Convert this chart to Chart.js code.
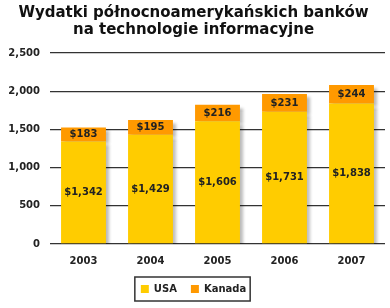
<!DOCTYPE html>
<html>
<head>
<meta charset="utf-8">
<script src="https://cdn.jsdelivr.net/npm/chart.js@4/dist/chart.umd.min.js"></script>
<style>
  html, body { margin: 0; padding: 0; background: #fff; }
  #wrap { width: 390px; height: 308px; }
</style>
</head>
<body>
<div id="wrap"><canvas id="chart"></canvas></div>
<script>
const years = ["2003", "2004", "2005", "2006", "2007"];
const usa = [1342, 1429, 1606, 1731, 1838];
const kanada = [183, 195, 216, 231, 244];
const seriesNames = ["USA", "Kanada"];
const titleLines = ["Wydatki północnoamerykańskich banków", "na technologie informacyjne"];

const FONT = "'DejaVu Sans', Verdana, sans-serif";
const fmt = v => v.toLocaleString("en-US");

// Shadow under bars
const shadowPlugin = {
  id: "shadow",
  beforeDatasetsDraw(chart) {
    const ctx = chart.ctx;
    ctx.save();
    ctx.shadowColor = "rgba(0,0,0,0.28)";
    ctx.shadowOffsetX = 3;
    ctx.shadowOffsetY = 3;
    ctx.shadowBlur = 3;
  },
  afterDatasetsDraw(chart) {
    chart.ctx.restore();
  }
};

// Value labels inside segments
const labelPlugin = {
  id: "valueLabels",
  afterDatasetsDraw(chart) {
    const ctx = chart.ctx;
    ctx.save();
    ctx.font = "bold 10px " + FONT;
    ctx.fillStyle = "#222";
    ctx.textAlign = "center";
    ctx.textBaseline = "middle";
    chart.data.datasets.forEach((ds, i) => {
      chart.getDatasetMeta(i).data.forEach((bar, j) => {
        const y = (bar.y + bar.base) / 2;
        ctx.fillText("$" + fmt(ds.data[j]), bar.x, y);
      });
    });
    ctx.restore();
  }
};

// Box around the legend
const legendBox = {
  id: "legendBox",
  afterDraw(chart) {
    const boxes = chart.legend.legendHitBoxes;
    if (!boxes || !boxes.length) return;
    const left = Math.min(...boxes.map(b => b.left)) - 6;
    const right = Math.max(...boxes.map(b => b.left + b.width)) + 4;
    const top = Math.min(...boxes.map(b => b.top)) - 7;
    const bottom = Math.max(...boxes.map(b => b.top + b.height)) + 7;
    const ctx = chart.ctx;
    ctx.save();
    ctx.strokeStyle = "#333";
    ctx.lineWidth = 1.5;
    ctx.strokeRect(left, top, right - left, bottom - top);
    ctx.restore();
  }
};

new Chart(document.getElementById("chart"), {
  type: "bar",
  data: {
    labels: years,
    datasets: [
      { label: seriesNames[0], data: usa, backgroundColor: "#FFCC00" },
      { label: seriesNames[1], data: kanada, backgroundColor: "#FF9900" }
    ]
  },
  options: {
    responsive: true,
    maintainAspectRatio: false,
    animation: false,
    categoryPercentage: 1,
    barPercentage: 0.67,
    layout: { padding: { left: 2, right: 5, top: 5, bottom: 4 } },
    scales: {
      x: {
        stacked: true,
        grid: { display: false },
        border: { display: false },
        ticks: { color: "#222", font: { family: FONT, size: 10, weight: "bold" }, padding: 3 }
      },
      y: {
        stacked: true,
        min: 0,
        max: 2500,
        afterFit: s => { s.width = 48; },
        grid: { color: "#333", lineWidth: 1.3, drawTicks: false },
        border: { display: false },
        ticks: {
          stepSize: 500,
          padding: 10,
          color: "#222",
          font: { family: FONT, size: 10, weight: "bold" },
          callback: v => fmt(v)
        }
      }
    },
    plugins: {
      title: {
        display: true,
        text: titleLines,
        color: "#111",
        font: { family: FONT, size: 15, weight: "bold", lineHeight: 1.1 },
        padding: { top: 0, bottom: 15 }
      },
      legend: {
        position: "bottom",
        labels: {
          boxWidth: 8,
          boxHeight: 8,
          padding: 14,
          color: "#222",
          font: { family: FONT, size: 10, weight: "bold" }
        }
      },
      tooltip: { enabled: false }
    }
  },
  plugins: [shadowPlugin, labelPlugin, legendBox]
});
</script>
</body>
</html>
